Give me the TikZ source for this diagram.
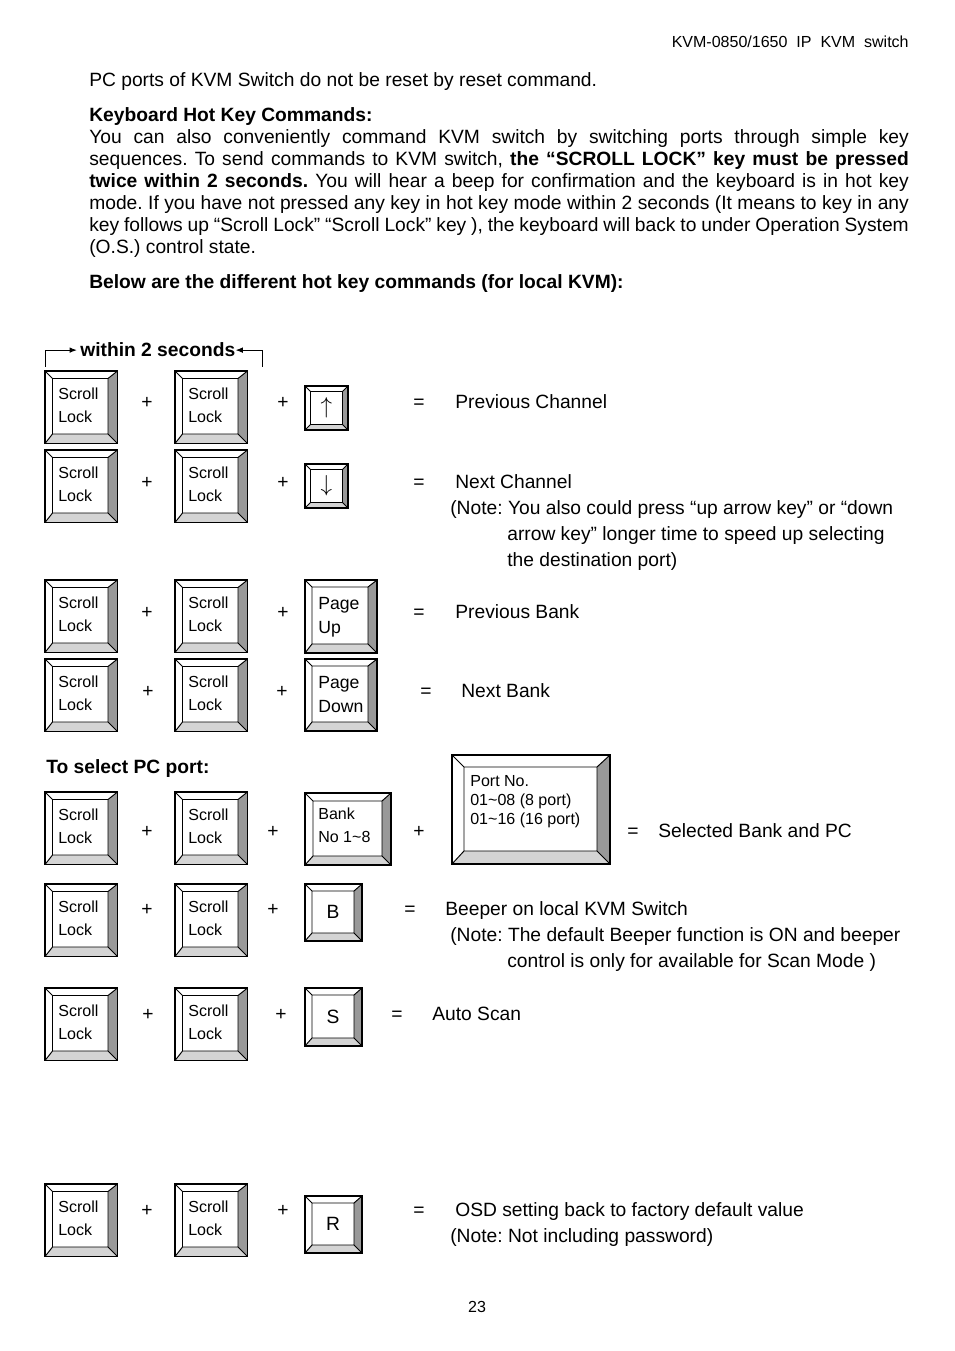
\documentclass[tikz,border=0pt]{standalone}
\usepackage{fontspec}
\setmainfont{Liberation Sans}
\usetikzlibrary{arrows.meta}
\frenchspacing

\tikzset{
  txt/.style={anchor=base west, inner sep=0pt, font=\fontsize{12}{13.7}\selectfont},
  bold/.style={txt, font=\fontsize{12}{13.7}\selectfont\bfseries},
  sign/.style={txt, anchor=base},
  keyrim/.style={line width=1.1pt},
  keyline/.style={line width=0.6pt},
  keyside/.style={fill=black!40},
  keybottom/.style={fill=black!17},
  keylbl/.style={anchor=north west, align=left, inner sep=0pt, font=\fontsize{10}{14.3}\selectfont},
  keychar/.style={inner sep=0pt, font=\fontsize{12}{12}\selectfont},
}

% #1 name, #2..#5 = x1,y1,x2,y2, #6 top/left bevel, #7 right/bottom bevel
\newcommand{\hotkey}[7]{%
  \fill[keyside] (#4,#3) -- (#4,#5) -- (#4-#7,#5-#7) -- (#4-#7,#3+#6) -- cycle;
  \fill[keybottom] (#2,#5) -- (#4,#5) -- (#4-#7,#5-#7) -- (#2+#6,#5-#7) -- cycle;
  \draw[keyline] (#2+#6,#3+#6) rectangle (#4-#7,#5-#7)
    (#2,#3) -- (#2+#6,#3+#6) (#4,#3) -- (#4-#7,#3+#6)
    (#2,#5) -- (#2+#6,#5-#7) (#4,#5) -- (#4-#7,#5-#7);
  \draw[keyrim] (#2,#3) rectangle (#4,#5);
  \coordinate (#1) at ({(#2+#6+#4-#7)/2},{(#3+#6+#5-#7)/2});
}
\newcommand{\scrollkey}[3]{%
  \hotkey{#1}{#2}{#3}{#2+72.5}{#3+72.5}{7.5}{9.5}
  \node[keylbl] (#1-txt) at (#2+13,#3+16.5) {Scroll\\Lock};
}

\newlength{\parwd}
\setlength{\parwd}{511.4pt}
\newcommand{\fullline}[1]{\makebox[\parwd][s]{#1}}

\begin{document}
\begin{tikzpicture}[x=0.624pt,y=-0.624pt]
  \fill[white] (0,0) rectangle (954,1351);
  \useasboundingbox (0,0) rectangle (954,1351);

  % page head and text
  \node[txt, anchor=base east, font=\fontsize{10}{12}\selectfont] (head) at (909,47.5) {KVM-0850/1650\ \ IP\ \ KVM\ \ switch};
  \node[txt] (reset) at (89,87) {PC ports of KVM Switch do not be reset by reset command.};
  \node[bold] (title) at (89,122) {Keyboard Hot Key Commands:};
  \node[txt] (par1) at (89,144) {\fullline{You can also conveniently command KVM switch by switching ports through simple key}};
  \node[txt] (par2) at (89,166) {\fullline{sequences. To send commands to KVM switch, \textbf{the “SCROLL LOCK” key must be pressed}}};
  \node[txt] (par3) at (89,188) {\fullline{\textbf{twice within 2 seconds.} You will hear a beep for confirmation and the keyboard is in hot key}};
  \node[txt] (par4) at (89,210) {\fullline{mode. If you have not pressed any key in hot key mode within 2 seconds (It means to key in any}};
  \node[txt] (par5) at (89,232) {\fullline{key follows up “Scroll Lock” “Scroll Lock” key ), the keyboard will back to under Operation System}};
  \node[txt] (par6) at (89,254) {(O.S.) control state.};
  \node[bold] (below) at (89,289) {Below are the different hot key commands (for local KVM):};

  % within 2 seconds
  \node[bold] (within) at (80,357) {within 2 seconds};
  \coordinate (brL) at (45,367);
  \coordinate (brR) at (262,367);
  \draw[line width=0.6pt, -{Latex[length=4.5pt,width=3.5pt]}, shorten >=2pt] (brL) |- (within.west);
  \draw[line width=0.6pt, -{Latex[length=4.5pt,width=3.5pt]}] (brR) |- (within.east);

  % scroll lock keys
  \foreach \y/\n in {371/1,450/2,580/3,659/4,792/5,884/6,988/7,1184/8}{
    \scrollkey{sa\n}{45}{\y}
    \scrollkey{sb\n}{175}{\y}
  }

  % third keys
  \hotkey{up}{305}{386}{348}{430}{5.5}{5.5}
  \node[keychar] (up-txt) at (up) {\fontsize{14}{14}\selectfont$\uparrow$};
  \hotkey{down}{305}{464}{348}{508}{5.5}{5.5}
  \node[keychar] (down-txt) at (down) {\fontsize{14}{14}\selectfont$\downarrow$};
  \hotkey{pgup}{305}{580}{377}{653}{7}{9}
  \node[keylbl, font=\fontsize{11}{15}\selectfont] (pgup-txt) at (318,597.5) {Page\\Up};
  \hotkey{pgdn}{305}{659}{377}{731}{7}{9}
  \node[keylbl, font=\fontsize{11}{15}\selectfont] (pgdn-txt) at (318,676.5) {Page\\Down};
  \hotkey{bank}{305}{793}{391}{865}{8}{9}
  \node[keylbl] (bank-txt) at (318,808) {Bank\\No 1\textasciitilde 8};
  \hotkey{port}{452}{755}{610}{864}{12}{13}
  \node[keylbl, font=\fontsize{10}{11.6}\selectfont] (port-txt) at (470,775.5) {Port No.\\01\textasciitilde 08 (8 port)\\01\textasciitilde 16 (16 port)};
  \hotkey{bkey}{305}{884}{362}{941}{7}{8}
  \node[keychar] (bkey-txt) at (bkey) {B};
  \hotkey{skey}{305}{988}{362}{1046}{7}{8}
  \node[keychar] (skey-txt) at (skey) {S};
  \hotkey{rkey}{305}{1196}{362}{1253}{7}{8}
  \node[keychar] (rkey-txt) at (rkey) {R};

  % plus signs
  \foreach \x/\y [count=\i] in {147/402,283/402,147/481,283/481,147/611,283/611,148/690,282/690,
      147/830,273/830,419/830,147/908,273/908,148/1013,281/1013,147/1209,283/1209}
    \node[sign] (plus\i) at (\x,\y+7) {+};

  % results
  \node[sign] (eq1) at (419,409) {=};
  \node[txt] (res1) at (455,409) {Previous Channel};
  \node[sign] (eq2) at (419,488) {=};
  \node[txt] (res2) at (455,488) {Next Channel};
  \node[txt] (note2a) at (450,514) {(Note: You also could press “up arrow key” or “down};
  \node[txt] (note2b) at (507,540) {arrow key” longer time to speed up selecting};
  \node[txt] (note2c) at (507,566) {the destination port)};
  \node[sign] (eq3) at (419,618) {=};
  \node[txt] (res3) at (455,618) {Previous Bank};
  \node[sign] (eq4) at (426,697) {=};
  \node[txt] (res4) at (461,697) {Next Bank};

  \node[bold] (select) at (46,773) {To select PC port:};
  \node[sign] (eq5) at (633,837) {=};
  \node[txt] (res5) at (658,837) {Selected Bank and PC};
  \node[sign] (eq6) at (410,915) {=};
  \node[txt] (res6) at (445,915) {Beeper on local KVM Switch};
  \node[txt] (note6a) at (450,941) {(Note: The default Beeper function is ON and beeper};
  \node[txt] (note6b) at (507,967) {control is only for available for Scan Mode )};
  \node[sign] (eq7) at (397,1020) {=};
  \node[txt] (res7) at (432,1020) {Auto Scan};
  \node[sign] (eq8) at (419,1216) {=};
  \node[txt] (res8) at (455,1216) {OSD setting back to factory default value};
  \node[txt] (note8) at (450,1242) {(Note: Not including password)};

  \node[sign, font=\fontsize{10}{12}\selectfont] (pageno) at (477,1312) {23};
\end{tikzpicture}
\end{document}
